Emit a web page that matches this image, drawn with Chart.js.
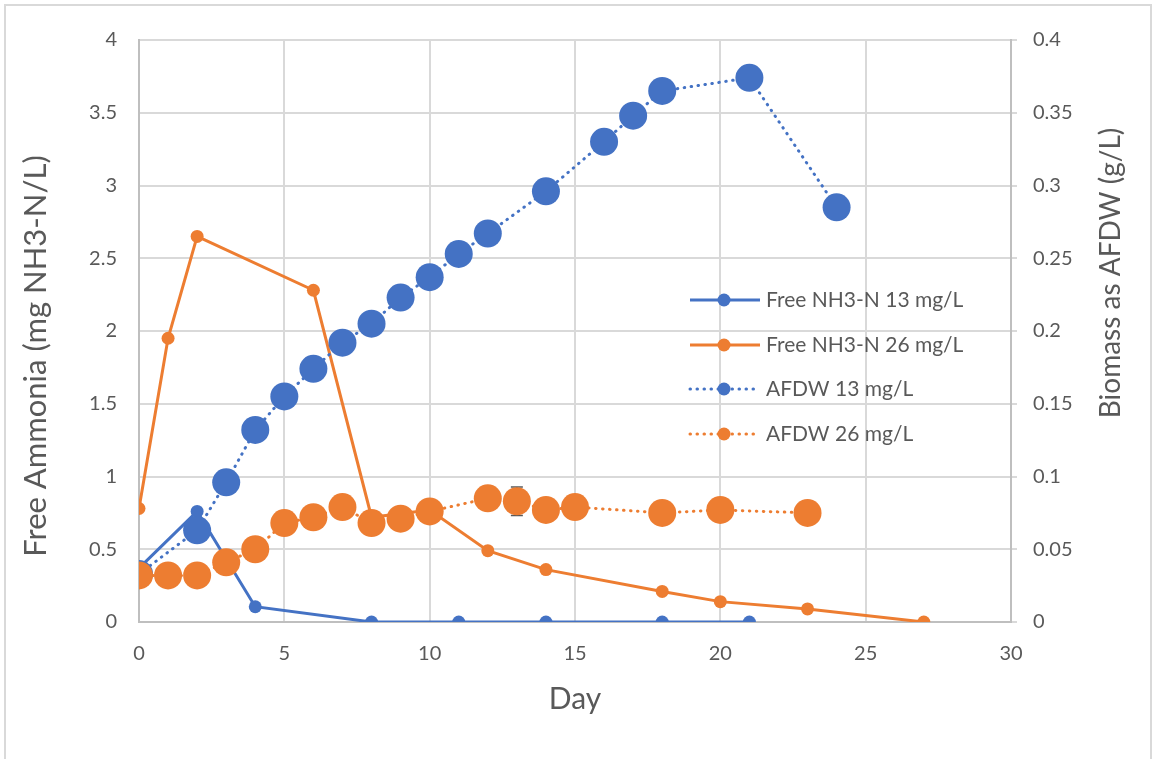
<!DOCTYPE html>
<html>
<head>
<meta charset="utf-8">
<script src="https://cdn.jsdelivr.net/npm/chart.js@4.4.1/dist/chart.umd.min.js"></script>
<style>
html, body { margin: 0; padding: 0; background: #fff; }
#wrap { position: relative; width: 1152px; height: 759px; overflow: hidden; }
#frame { position: absolute; left: 4px; top: 4px; width: 1148px; height: 780px; border: 2px solid #d9d9d9; box-sizing: border-box; pointer-events: none; }
</style>
</head>
<body>
<div id="wrap">
  <canvas id="graph" width="1152" height="759"></canvas>
  <div id="frame"></div>
</div>
<script>
// Free ammonia (left axis, mg NH3-N/L)
const dayNH13 = [0, 2, 4, 8, 11, 14, 18, 21];
const nh13 = [0.37, 0.76, 0.105, 0, 0, 0, 0, 0];
const dayNH26 = [0, 1, 2, 6, 8, 10, 12, 14, 18, 20, 23, 27];
const nh26 = [0.78, 1.95, 2.65, 2.28, 0.72, 0.77, 0.49, 0.36, 0.21, 0.14, 0.09, 0];

// Biomass as AFDW (right axis, g/L)
const dayAF13 = [0, 2, 3, 4, 5, 6, 7, 8, 9, 10, 11, 12, 14, 16, 17, 18, 21, 24];
const af13 = [0.033, 0.063, 0.096, 0.132, 0.155, 0.174, 0.192, 0.205, 0.223, 0.237, 0.253, 0.267, 0.296, 0.330, 0.348, 0.365, 0.374, 0.285];
const dayAF26 = [0, 1, 2, 3, 4, 5, 6, 7, 8, 9, 10, 12, 13, 14, 15, 18, 20, 23];
const af26 = [0.032, 0.032, 0.032, 0.041, 0.050, 0.068, 0.072, 0.079, 0.068, 0.071, 0.076, 0.085, 0.083, 0.077, 0.079, 0.075, 0.077, 0.075];
const af26Err = [0, 0, 0, 0, 0, 0, 0, 0, 0, 0, 0, 0, 0.0098, 0, 0, 0, 0, 0];

const blue = '#4472C4';
const orange = '#ED7D31';
const textGrey = '#595959';

Chart.defaults.font.family = 'Lato';
Chart.defaults.color = textGrey;

function pts(xs, ys) {
    return xs.map((x, i) => ({ x: x, y: ys[i] }));
}

// Excel-style tick text: 4 not 4.0, 0.1 not 0.10
function plain(value) {
    return String(Number(value.toFixed(3)));
}

function series(label, xs, ys, color, axis, dotted, radius, order) {
    return {
        label: label,
        data: pts(xs, ys),
        yAxisID: axis,
        showLine: true,
        borderColor: color,
        backgroundColor: color,
        borderWidth: 3,
        borderDash: dotted ? [0.5, 6.5] : [],
        borderCapStyle: dotted ? 'round' : 'butt',
        pointRadius: radius,
        pointBorderWidth: 0,
        pointBackgroundColor: color,
        order: order
    };
}

// error bars under the AFDW 26 markers
const errorBars = {
    id: 'errorBars',
    beforeDatasetsDraw(chart) {
        const ctx = chart.ctx;
        const xs = chart.scales.x, ys = chart.scales.y1;
        ctx.save();
        ctx.strokeStyle = '#595959';
        ctx.lineWidth = 1.5;
        dayAF26.forEach((d, i) => {
            const e = af26Err[i];
            if (!e) return;
            const px = xs.getPixelForValue(d);
            const top = ys.getPixelForValue(af26[i] + e);
            const bot = ys.getPixelForValue(af26[i] - e);
            ctx.beginPath();
            ctx.moveTo(px, top); ctx.lineTo(px, bot);
            ctx.moveTo(px - 6, top); ctx.lineTo(px + 6, top);
            ctx.moveTo(px - 6, bot); ctx.lineTo(px + 6, bot);
            ctx.stroke();
        });
        ctx.restore();
    }
};

// legend inside the plot and the two vertical axis titles
const extras = {
    id: 'extras',
    afterDraw(chart) {
        const ctx = chart.ctx;
        const rows = [300, 345, 389, 434];
        ctx.save();
        chart.data.datasets.forEach((ds, i) => {
            const y = rows[i];
            const dotted = ds.borderDash.length > 0;
            ctx.strokeStyle = ds.borderColor;
            ctx.lineWidth = 3;
            ctx.lineCap = dotted ? 'round' : 'butt';
            ctx.setLineDash(ds.borderDash);
            ctx.beginPath();
            ctx.moveTo(690, y);
            ctx.lineTo(dotted ? 757 : 760, y);
            ctx.stroke();
            ctx.setLineDash([]);
            ctx.fillStyle = ds.backgroundColor;
            ctx.beginPath();
            ctx.arc(724, y, 6.5, 0, Math.PI * 2);
            ctx.fill();
            ctx.fillStyle = textGrey;
            ctx.font = '21px Lato';
            ctx.textBaseline = 'middle';
            ctx.textAlign = 'left';
            ctx.fillText(ds.label, 766, y);
        });

        ctx.textAlign = 'center';
        ctx.textBaseline = 'middle';
        ctx.fillStyle = textGrey;
        ctx.font = '31px Lato';
        ctx.translate(36, 356);
        ctx.rotate(-Math.PI / 2);
        ctx.fillText('Free Ammonia (mg NH3-N/L)', 0, 0);
        ctx.setTransform(1, 0, 0, 1, 0, 0);
        ctx.font = '28px Lato';
        ctx.translate(1111, 273);
        ctx.rotate(-Math.PI / 2);
        ctx.fillText('Biomass as AFDW (g/L)', 0, 0);
        ctx.restore();
    }
};

const ctx = document.getElementById('graph').getContext('2d');
const chart = new Chart(ctx, {
    type: 'scatter',
    data: {
        datasets: [
            series('Free NH3-N 13 mg/L', dayNH13, nh13, blue, 'y', false, 6.5, 4),
            series('Free NH3-N 26 mg/L', dayNH26, nh26, orange, 'y', false, 6.5, 3),
            series('AFDW 13 mg/L', dayAF13, af13, blue, 'y1', true, 14, 2),
            series('AFDW 26 mg/L', dayAF26, af26, orange, 'y1', true, 14, 1)
        ]
    },
    options: {
        responsive: false,
        animation: false,
        layout: { padding: { top: 40, left: 0, right: 0, bottom: 0 } },
        plugins: {
            legend: { display: false },
            tooltip: { enabled: false }
        },
        scales: {
            x: {
                type: 'linear',
                min: 0,
                max: 30,
                ticks: { stepSize: 5, font: { size: 20 }, padding: 20, callback: plain },
                grid: { color: '#d9d9d9', lineWidth: 2, drawTicks: false },
                border: { color: '#bfbfbf', width: 2 },
                title: { display: true, text: 'Day', font: { size: 30 }, padding: { top: 0, bottom: 42 } },
                afterFit(scale) { scale.height = 137; }
            },
            y: {
                position: 'left',
                min: 0,
                max: 4,
                ticks: { stepSize: 0.5, font: { size: 20 }, padding: 22, callback: plain },
                grid: { color: '#d9d9d9', lineWidth: 2, drawTicks: false },
                border: { color: '#bfbfbf', width: 2 },
                afterFit(scale) { scale.width = 139; }
            },
            y1: {
                position: 'right',
                min: 0,
                max: 0.4,
                ticks: { stepSize: 0.05, font: { size: 20 }, padding: 16, callback: plain },
                grid: { drawOnChartArea: false, color: '#d9d9d9', lineWidth: 2, tickLength: 6 },
                border: { color: '#bfbfbf', width: 2 },
                afterFit(scale) { scale.width = 141; }
            }
        }
    },
    plugins: [errorBars, extras]
});
</script>
</body>
</html>
